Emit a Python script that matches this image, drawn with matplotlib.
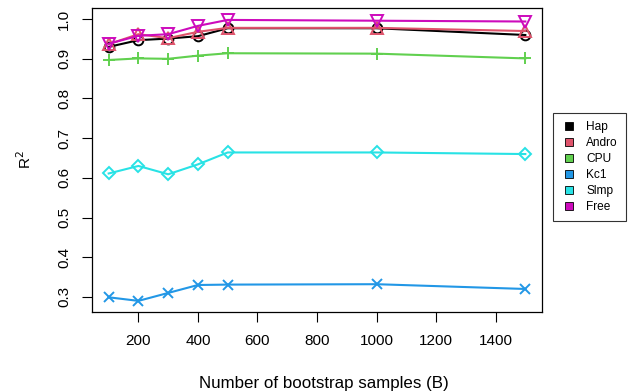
import matplotlib
matplotlib.use("Agg")
import matplotlib.pyplot as plt
from matplotlib.lines import Line2D

plt.rcParams['font.family'] = ['Liberation Sans', 'DejaVu Sans']

# bootstrap sample sizes
B = [100, 200, 300, 400, 500, 1000, 1500]

# R^2 per dataset
hap = [0.930, 0.947, 0.951, 0.957, 0.977, 0.977, 0.960]
andro = [0.937, 0.962, 0.952, 0.968, 0.978, 0.978, 0.970]
cpu = [0.897, 0.901, 0.900, 0.908, 0.914, 0.913, 0.901]
kc1 = [0.299, 0.290, 0.310, 0.330, 0.331, 0.332, 0.320]
slmp = [0.611, 0.630, 0.609, 0.634, 0.664, 0.664, 0.660]
free = [0.938, 0.958, 0.962, 0.983, 0.998, 0.996, 0.994]

names = ['Hap', 'Andro', 'CPU', 'Kc1', 'Slmp', 'Free']
series = [hap, andro, cpu, kc1, slmp, free]
colors = ['#000000', '#DF536B', '#61D04F', '#2297E6', '#28E2E5', '#CD0BBC']
markers = ['o', '^', '+', 'x', 'D', 'v']
msizes = [7, 8, 8.5, 7, 6, 8]

fig = plt.figure(figsize=(6.34, 3.91), dpi=100)
ax = fig.add_axes([0.1451, 0.2028, 0.7098, 0.7760])

for ys, c, m, ms in zip(series, colors, markers, msizes):
    ax.plot(B, ys, color=c, lw=1.5, marker=m, ms=ms, mfc='none', mec=c, mew=1.4)

ax.set_xlim(44, 1556)
ax.set_ylim(0.2627, 1.0273)
ax.set_xticks([200, 400, 600, 800, 1000, 1200, 1400])
ax.set_yticks([0.3, 0.4, 0.5, 0.6, 0.7, 0.8, 0.9, 1.0])
ax.set_yticklabels(['0.3', '0.4', '0.5', '0.6', '0.7', '0.8', '0.9', '1.0'],
                   rotation=90, va='center')
ax.tick_params(direction='out', length=7, width=0.8, labelsize=11)
ax.tick_params(axis='x', pad=9)
ax.tick_params(axis='y', pad=8)
for s in ax.spines.values():
    s.set_linewidth(0.9)

ax.set_xlabel('Number of bootstrap samples (B)', fontsize=12.2, va='baseline')
ax.xaxis.set_label_coords(0.515, -0.2515)
ax.set_ylabel('R$^2$', fontsize=11, va='center')
ax.yaxis.set_label_coords(-0.149, 0.5)

handles = [Line2D([], [], ls='none', marker='s', ms=5.4, mfc=c, mec='black', mew=0.6)
           for c in colors]
leg = fig.legend(handles, names, loc='upper left', bbox_to_anchor=(553 / 634, 1 - 113 / 391),
                 fontsize=8.6, frameon=True, fancybox=False, edgecolor='black',
                 handlelength=1.3, handletextpad=0.8,
                 labelspacing=0.33, borderpad=0.7, borderaxespad=0)
leg.get_frame().set_linewidth(0.8)

fig.savefig('out.png', dpi=100)
